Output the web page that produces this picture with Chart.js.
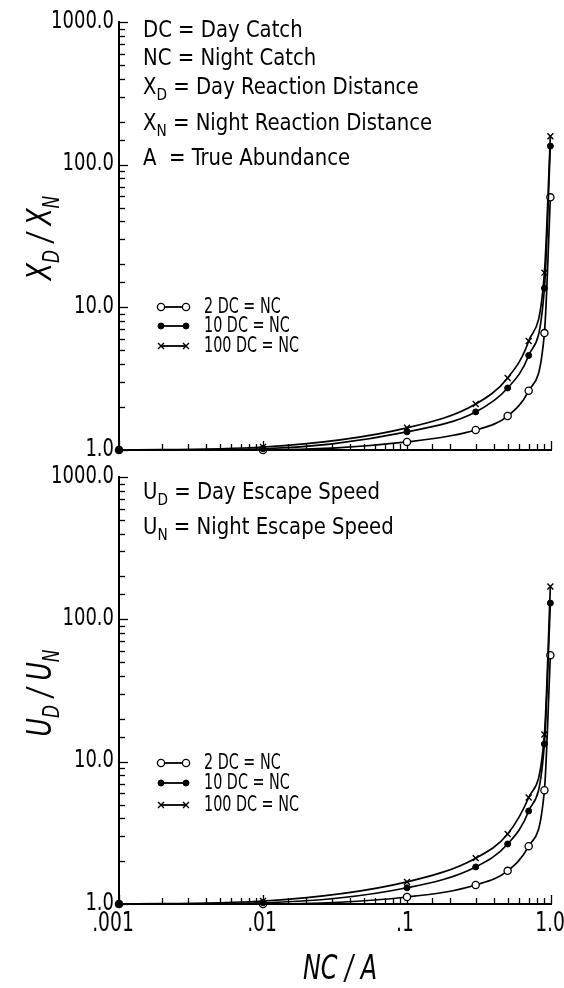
<!DOCTYPE html>
<html>
<head>
<meta charset="utf-8">
<script src="https://cdn.jsdelivr.net/npm/chart.js@4.4.1/dist/chart.umd.min.js"></script>
<style>
html,body{margin:0;padding:0;background:#fff;}
#wrap{position:relative;width:564px;height:988px;overflow:hidden;background:#fff;color:#000;
 font-family:"DejaVu Sans Condensed","Liberation Sans Narrow","Arial Narrow","Liberation Sans",sans-serif;}
canvas{position:absolute;left:0;}
#c1{top:0;}
#c2{top:460px;}
.t{position:absolute;left:143px;font-size:23px;line-height:1;white-space:nowrap;transform:scaleX(0.95);transform-origin:left center;}
.t sub{font-size:16px;vertical-align:-6px;line-height:0;}
.ttl{position:absolute;font-style:italic;font-size:34px;line-height:1;white-space:nowrap;text-align:center;}
.ttl sub{font-size:23px;vertical-align:-8px;line-height:0;}
.rot{width:200px;transform:rotate(-90deg) scaleX(0.82);transform-origin:center center;}
.hor{width:200px;transform:scaleX(0.78);transform-origin:center center;}
</style>
</head>
<body>
<div id="wrap">
  <canvas id="c1" width="564" height="460"></canvas>
  <canvas id="c2" width="564" height="528"></canvas>

  <div class="t" style="top:18px">DC = Day Catch</div>
  <div class="t" style="top:46px">NC = Night Catch</div>
  <div class="t" style="top:75px">X<sub>D</sub> = Day Reaction Distance</div>
  <div class="t" style="top:111px">X<sub>N</sub> = Night Reaction Distance</div>
  <div class="t" style="top:146px">A &nbsp;= True Abundance</div>

  <div class="t" style="top:480px">U<sub>D</sub> = Day Escape Speed</div>
  <div class="t" style="top:515px">U<sub>N</sub> = Night Escape Speed</div>

  <div class="ttl rot" style="left:-61px;top:221px">X<sub>D</sub> / X<sub>N</sub></div>
  <div class="ttl rot" style="left:-61px;top:676px">U<sub>D</sub> / U<sub>N</sub></div>
  <div class="ttl hor" style="left:240px;top:950px">NC / A</div>
</div>
<script>
// ---------------- data ----------------
const ncA = [0.001, 0.01, 0.1, 0.3, 0.5, 0.7, 0.9, 0.99];

// top panel: XD/XN
const xd2   = [1.0, 1.0,  1.14, 1.38, 1.73, 2.6, 6.6,  59];
const xd10  = [1.0, 1.02, 1.34, 1.85, 2.72, 4.6, 13.6, 135];
const xd100 = [1.0, 1.05, 1.43, 2.1,  3.2,  5.8, 17.5, 158];

// bottom panel: UD/UN
const ud2   = [1.0, 1.0,  1.12, 1.36, 1.71, 2.55, 6.3,  56];
const ud10  = [1.0, 1.02, 1.3,  1.82, 2.64, 4.5,  13.3, 130];
const ud100 = [1.0, 1.05, 1.43, 2.1,  3.1,  5.6,  15.5, 170];

const seriesLabels = ['2 DC = NC', '10 DC = NC', '100 DC = NC'];
const xTickValues = [0.001, 0.01, 0.1, 1];
const xTickLabels = ['.001', '.01', '.1', '1.0'];
const yTickValues = [1, 10, 100, 1000];
const yTickLabels = ['1.0', '10.0', '100.0', '1000.0'];

// ---------------- helpers ----------------
const FONT = '"DejaVu Sans Condensed","Liberation Sans Narrow","Arial Narrow","Liberation Sans",sans-serif';
function decadeIndex(v, arr){
  for (let i=0;i<arr.length;i++){ if (Math.abs(Math.log10(v)-Math.log10(arr[i]))<1e-6) return i; }
  return -1;
}
const styles = [
  {order:1, pointStyle:'circle', pointRadius:3.6, pointBackgroundColor:'#fff', pointBorderColor:'#000', pointBorderWidth:1.3},
  {order:0, pointStyle:'circle', pointRadius:3.0, pointBackgroundColor:'#000', pointBorderColor:'#000', pointBorderWidth:1},
  {order:2, pointStyle:'crossRot', pointRadius:4.2, pointBackgroundColor:'#000', pointBorderColor:'#000', pointBorderWidth:1.4}
];
function makeDatasets(seriesArr){
  return seriesArr.map((vals,i)=>Object.assign({
    label: seriesLabels[i],
    data: ncA.map((x,j)=>({x:x, y:vals[j]})),
    borderColor:'#000', borderWidth:1.7, fill:false,
    cubicInterpolationMode:'monotone', clip:false
  }, styles[i]));
}

const inTicks = {
  id:'inTicks',
  beforeDatasetsDraw(chart){
    const {ctx, chartArea:a, scales:{x, y}} = chart;
    ctx.save();
    ctx.strokeStyle = '#000';
    ctx.lineWidth = 1.3;
    y.ticks.forEach(t=>{
      const py = Math.round(y.getPixelForValue(t.value))+0.5;
      const major = decadeIndex(t.value, yTickValues) >= 0;
      ctx.beginPath(); ctx.moveTo(a.left, py); ctx.lineTo(a.left + (major?9:6), py); ctx.stroke();
    });
    x.ticks.forEach(t=>{
      const px = Math.round(x.getPixelForValue(t.value))+0.5;
      const major = decadeIndex(t.value, xTickValues) >= 0;
      ctx.beginPath(); ctx.moveTo(px, a.bottom); ctx.lineTo(px, a.bottom - (major?9:6)); ctx.stroke();
    });
    ctx.restore();
  }
};

// narrow tick labels positioned by the library's scales
const xLabelShift = [-6, -1, -2, -1];
const tickLabels = {
  id:'tickLabels',
  afterDraw(chart, args, o){
    const {ctx, chartArea:a, scales:{x, y}} = chart;
    ctx.save();
    ctx.fillStyle = '#000';
    ctx.textBaseline = 'middle';
    ctx.font = '25px ' + FONT;
    yTickValues.forEach((v,i)=>{
      const py = y.getPixelForValue(v);
      ctx.save(); ctx.translate(a.left - 5, py - 1); ctx.scale(0.8, 1);
      ctx.textAlign = 'right'; ctx.fillText(yTickLabels[i], 0, 0); ctx.restore();
    });
    if (o.showX){
      ctx.font = '26px ' + FONT;
      xTickValues.forEach((v,i)=>{
        const px = x.getPixelForValue(v);
        ctx.save(); ctx.translate(px + xLabelShift[i], a.bottom + 20); ctx.scale(0.8, 1);
        ctx.textAlign = 'center'; ctx.fillText(xTickLabels[i], 0, 0); ctx.restore();
      });
    }
    ctx.restore();
  }
};

const sampleLegend = {
  id:'sampleLegend',
  afterDatasetsDraw(chart, args, opts){
    const {ctx} = chart;
    ctx.save();
    chart.data.datasets.forEach((ds,i)=>{
      const yy = opts.rows[i];
      const x1 = opts.x1, x2 = opts.x2;
      ctx.strokeStyle='#000'; ctx.lineWidth=1.8;
      ctx.beginPath(); ctx.moveTo(x1, yy); ctx.lineTo(x2, yy); ctx.stroke();
      const po = {pointStyle: ds.pointStyle, radius: ds.pointRadius, borderWidth: ds.pointBorderWidth, rotation:0};
      [x1, x2].forEach(px=>{
        ctx.fillStyle = ds.pointBackgroundColor; ctx.strokeStyle = ds.pointBorderColor; ctx.lineWidth = ds.pointBorderWidth;
        Chart.helpers.drawPoint(ctx, po, px, yy);
      });
      ctx.fillStyle='#000';
      ctx.font = '21px ' + FONT;
      ctx.textBaseline='middle'; ctx.textAlign='left';
      ctx.save(); ctx.translate(opts.tx, yy + 1); ctx.scale(0.76, 1);
      ctx.fillText(ds.label, 0, 0); ctx.restore();
    });
    ctx.restore();
  }
};

function makeChart(id, seriesArr, showX, pad, xHeight, legendRows){
  return new Chart(document.getElementById(id), {
    type:'line',
    data:{datasets: makeDatasets(seriesArr)},
    plugins:[inTicks, tickLabels, sampleLegend],
    options:{
      responsive:false, animation:false, events:[],
      layout:{padding:pad},
      plugins:{legend:{display:false}, tooltip:{enabled:false},
        sampleLegend:{rows:legendRows, x1:161, x2:186, tx:204},
        tickLabels:{showX:showX}},
      scales:{
        x:{type:'logarithmic', min:0.001, max:1,
           grid:{display:false, drawTicks:false},
           border:{display:true, color:'#000', width:2},
           afterFit(s){ s.height = xHeight; s.paddingLeft = 0; s.paddingRight = 0; },
           ticks:{display:false, autoSkip:false}
        },
        y:{type:'logarithmic', min:1, max:1000,
           grid:{display:false, drawTicks:false},
           border:{display:true, color:'#000', width:2},
           afterFit(s){ s.width = 119; s.paddingTop = 0; s.paddingBottom = 0; },
           ticks:{display:false, autoSkip:false}
        }
      }
    }
  });
}

makeChart('c1', [xd2, xd10, xd100], false, {top:22, right:13, bottom:10, left:0}, 0, [307, 326, 346]);
makeChart('c2', [ud2, ud10, ud100], true, {top:17, right:13, bottom:0, left:0}, 84, [303, 323, 345]);
</script>
</body>
</html>
